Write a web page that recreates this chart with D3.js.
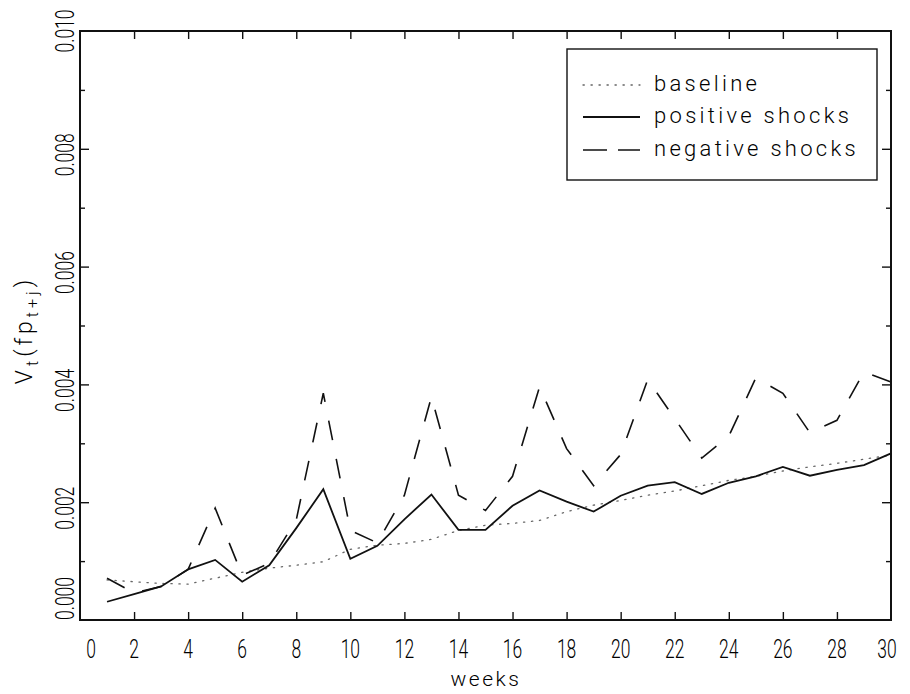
<!DOCTYPE html>
<html>
<head>
<meta charset="utf-8">
<script src="https://cdn.jsdelivr.net/npm/d3@7/dist/d3.min.js"></script>
<style>
  html, body { margin: 0; padding: 0; background: #fff; }
  svg text { font-family: Roboto, "Liberation Sans", "DejaVu Sans", sans-serif; font-weight: 300; fill: #000; }
</style>
</head>
<body>
<svg id="chart" width="910" height="694"></svg>
<script>
// Forecast-variance paths by horizon (weeks)
const weeks = [1, 2, 3, 4, 5, 6, 7, 8, 9, 10, 11, 12, 13, 14, 15,
               16, 17, 18, 19, 20, 21, 22, 23, 24, 25, 26, 27, 28, 29, 30];

const baseline = [0.00068, 0.00065, 0.00062, 0.00061, 0.00071, 0.00081, 0.00088, 0.00093, 0.00099, 0.00120,
                  0.00127, 0.00130, 0.00137, 0.00152, 0.00161, 0.00164, 0.00169, 0.00184, 0.00195, 0.00203,
                  0.00212, 0.00219, 0.00228, 0.00237, 0.00244, 0.00253, 0.00260, 0.00266, 0.00273, 0.00280];

const positiveShocks = [0.00031, 0.00044, 0.00057, 0.00086, 0.00102, 0.00065, 0.00093, 0.00156, 0.00222, 0.00104,
                        0.00126, 0.00171, 0.00213, 0.00153, 0.00153, 0.00194, 0.00220, 0.00201, 0.00184, 0.00211,
                        0.00228, 0.00234, 0.00214, 0.00233, 0.00244, 0.00260, 0.00245, 0.00255, 0.00263, 0.00283];

const negativeShocks = [0.00071, 0.00046, 0.00057, 0.00086, 0.00190, 0.00076, 0.00096, 0.00170, 0.00385, 0.00152,
                        0.00131, 0.00212, 0.00379, 0.00212, 0.00186, 0.00244, 0.00396, 0.00291, 0.00228, 0.00281,
                        0.00408, 0.00342, 0.00275, 0.00312, 0.00411, 0.00385, 0.00318, 0.00339, 0.00421, 0.00404];

const xTickLabels = [0, 2, 4, 6, 8, 10, 12, 14, 16, 18, 20, 22, 24, 26, 28, 30];
const xInnerTicks = [2, 4, 6, 8, 10, 12, 14, 16, 18, 20, 22, 24, 26, 28];
const yTickLabels = [0.000, 0.002, 0.004, 0.006, 0.008, 0.010];
const yMajorTicks = [0.002, 0.004, 0.006, 0.008];
const yMinorTicks = [0.001, 0.003, 0.005, 0.007, 0.009];

const seriesNames = ["baseline", "positive shocks", "negative shocks"];

// ---- layout ----
const frame = { left: 80, right: 891, top: 31, bottom: 620 };
const svg = d3.select("#chart");

const x = d3.scaleLinear().domain([0, 30]).range([frame.left, frame.right]);
const y = d3.scaleLinear().domain([0, 0.010]).range([frame.bottom, frame.top]);

// ---- tick marks (inward on all four sides) ----
function ticks(axis, transform) {
  const g = svg.append("g").attr("transform", transform).call(axis);
  g.select(".domain").remove();
  g.selectAll(".tick line").attr("stroke", "#111").attr("stroke-width", 1.4);
  g.selectAll(".tick text").remove();
  return g;
}
ticks(d3.axisBottom(x).tickValues(xInnerTicks).tickSize(-8), `translate(0,${frame.bottom})`);
ticks(d3.axisTop(x).tickValues(xInnerTicks).tickSize(-8), `translate(0,${frame.top})`);
ticks(d3.axisLeft(y).tickValues(yMajorTicks).tickSize(-9), `translate(${frame.left},0)`);
ticks(d3.axisLeft(y).tickValues(yMinorTicks).tickSize(-5), `translate(${frame.left},0)`);
ticks(d3.axisRight(y).tickValues(yMajorTicks).tickSize(-9), `translate(${frame.right},0)`);
ticks(d3.axisRight(y).tickValues(yMinorTicks).tickSize(-5), `translate(${frame.right},0)`);

// ---- frame ----
svg.append("rect")
  .attr("x", frame.left).attr("y", frame.top)
  .attr("width", frame.right - frame.left).attr("height", frame.bottom - frame.top)
  .attr("fill", "none").attr("stroke", "#111").attr("stroke-width", 2);

// ---- tick labels: narrow, tall digits ----
const labelSize = 25, squeeze = 0.7;
svg.append("g").selectAll("g.xl")
  .data(xTickLabels).join("g")
  .attr("class", "xl")
  .attr("transform", d => {
    let px = x(d);
    if (d === 0) px += 11;      // keep clear of the 0.000 label
    if (d === 30) px -= 4;
    return `translate(${px},658) scale(${squeeze},1)`;
  })
  .append("text")
  .attr("text-anchor", "middle")
  .attr("font-size", labelSize)
  .text(d => d);

svg.append("g").selectAll("g.yl")
  .data(yTickLabels).join("g")
  .attr("class", "yl")
  .attr("transform", d => {
    // interior labels sit slightly below their tick
    const py = (d > 0 && d < 0.010) ? y(d) + 6 : y(d);
    return `translate(74,${py}) rotate(-90) scale(${squeeze},1)`;
  })
  .append("text")
  .attr("text-anchor", d => d === 0 ? "start" : "middle")
  .attr("font-size", labelSize)
  .text(d => d3.format(".3f")(d));

// ---- axis titles ----
svg.append("text")
  .attr("x", 486).attr("y", 686)
  .attr("text-anchor", "middle")
  .attr("font-size", 21).attr("letter-spacing", 2.5)
  .text("weeks");

const yTitle = svg.append("text")
  .attr("transform", "translate(32,330) rotate(-90)")
  .attr("text-anchor", "middle")
  .attr("font-size", 23).attr("letter-spacing", 4);
yTitle.append("tspan").text("V");
yTitle.append("tspan").attr("font-size", 16).attr("dy", 6).text("t");
yTitle.append("tspan").attr("dy", -6).text("(fp");
yTitle.append("tspan").attr("font-size", 16).attr("dy", 6).text("t+j");
yTitle.append("tspan").attr("dy", -6).text(")");

// ---- series ----
const styles = [
  { values: baseline,       stroke: "#666", width: 1.3, dash: "1.3,6.7", cap: "round" },
  { values: positiveShocks, stroke: "#111", width: 1.8, dash: null,      cap: "butt" },
  { values: negativeShocks, stroke: "#111", width: 1.6, dash: "20,19",   cap: "butt" }
];

const line = d3.line()
  .x(d => x(d.week))
  .y(d => y(d.v));

svg.append("g").selectAll("path.series")
  .data(styles).join("path")
  .attr("class", "series")
  .attr("d", s => line(weeks.map((w, i) => ({ week: w, v: s.values[i] }))))
  .attr("fill", "none")
  .attr("stroke", s => s.stroke)
  .attr("stroke-width", s => s.width)
  .attr("stroke-linecap", s => s.cap)
  .attr("stroke-linejoin", "miter")
  .attr("stroke-dasharray", s => s.dash);

// ---- legend ----
const legend = svg.append("g");
legend.append("rect")
  .attr("x", 567).attr("y", 49).attr("width", 310).attr("height", 131)
  .attr("fill", "#fff").attr("stroke", "#111").attr("stroke-width", 1.4);

const legendDash = [styles[0].dash, null, "24,11"];
const rowY = [85, 117, 150];
seriesNames.forEach((name, i) => {
  legend.append("line")
    .attr("x1", 583).attr("x2", 640)
    .attr("y1", rowY[i]).attr("y2", rowY[i])
    .attr("stroke", styles[i].stroke)
    .attr("stroke-width", styles[i].width)
    .attr("stroke-linecap", styles[i].cap)
    .attr("stroke-dasharray", legendDash[i]);
  legend.append("text")
    .attr("x", 654).attr("y", rowY[i] + 6)
    .attr("font-size", 22).attr("letter-spacing", 3.3)
    .text(name);
});
</script>
</body>
</html>
